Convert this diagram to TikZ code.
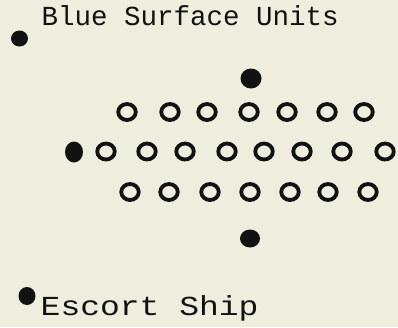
\documentclass[tikz,border=0pt]{standalone}
\usepackage{fontspec}
\newfontfamily\tw{Liberation Mono}
\usetikzlibrary{shapes.geometric}
\definecolor{paper}{RGB}{239,237,221}
\definecolor{ink}{RGB}{18,18,18}
\begin{document}
\begin{tikzpicture}[x=1pt,y=-1pt,
  ring/.style={ellipse,draw=ink,line width=3.8pt,minimum width=17.5pt,minimum height=16pt,inner sep=0pt},
  ship/.style={ellipse,fill=ink,minimum width=18pt,minimum height=18pt,inner sep=0pt},
  label/.style={inner sep=0pt,anchor=base west,text=ink,font=\tw\fontsize{27.5}{27.5}\selectfont}]
\fill[paper] (0,0) rectangle (398,327);
\useasboundingbox (0,0) rectangle (398,327);
% labels
\node[label] (title) at (41.5,25) {Blue Surface Units};
\node[label,xscale=1.2] (escortlbl) at (40.5,315) {Escort Ship};
% legend dots
\node[ship,minimum width=17pt,minimum height=16pt] (legblue) at (19.5,38.5) {};
\node[ship,minimum width=17pt,minimum height=18pt] (legescort) at (27,296) {};
% escorts in formation
\node[ship,minimum width=21pt,minimum height=20pt] (front) at (251,78.5) {};
\node[ship,minimum width=18pt,minimum height=21pt] (left) at (74,152) {};
\node[ship,minimum width=20pt,minimum height=18pt] (rear) at (250,238.5) {};
% row 1
\foreach \x [count=\i] in {127,170,207,249,287,327,364}
  \node[ring] (ra\i) at (\x,112) {};
% row 2
\foreach \x [count=\i] in {106,147,185,227,264,302,342,385}
  \node[ring] (rb\i) at (\x,151.5) {};
% row 3
\foreach \x [count=\i] in {130,169,210,250,290,328,368}
  \node[ring] (rc\i) at (\x,192) {};
\end{tikzpicture}
\end{document}
